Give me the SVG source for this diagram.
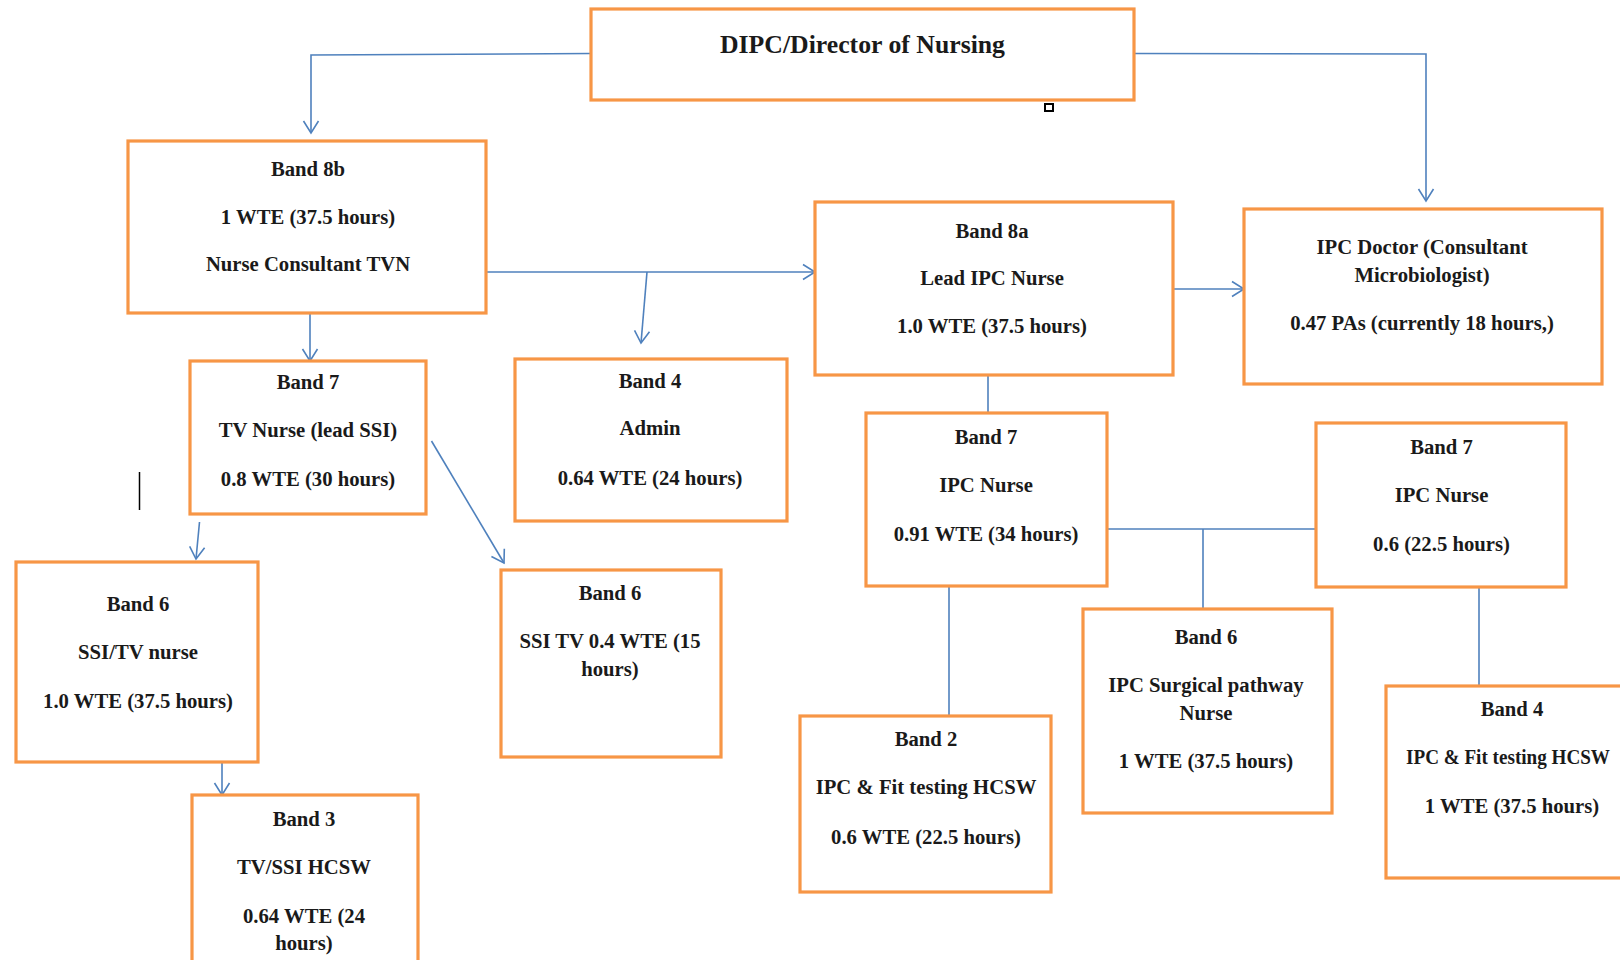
<svg xmlns="http://www.w3.org/2000/svg" width="1620" height="960" viewBox="0 0 1620 960">
<style>
.box{fill:#fff;stroke:#F79646;stroke-width:3.2}
.t{font-family:"Liberation Serif","Times New Roman",serif;font-weight:bold;font-size:20.7px;fill:#1a1a1a;text-anchor:middle}
.title{font-size:25px}
.c{fill:none;stroke:#4F81BD;stroke-width:1.6}
.a{marker-end:url(#arr)}
</style>
<defs>
<marker id="arr" markerUnits="userSpaceOnUse" markerWidth="30" markerHeight="30" refX="0" refY="0" viewBox="-15 -15 30 30" orient="auto" overflow="visible">
<path d="M -12 -7.5 L 0 0 L -12 7.5" fill="none" stroke="#4F81BD" stroke-width="1.6"/>
</marker>
</defs>
<rect width="1620" height="960" fill="#fff"/>
<g id="connectors">
<polyline class="c a" points="591,53.5 311,55 311,133"/>
<polyline class="c a" points="1134,53.5 1426,54 1426,201"/>
<line class="c a" x1="310" y1="313" x2="310" y2="361"/>
<line class="c a" x1="486" y1="272" x2="815" y2="272"/>
<line class="c a" x1="647" y1="272" x2="641" y2="343"/>
<line class="c a" x1="1173" y1="289" x2="1244" y2="289"/>
<line class="c" x1="988" y1="375" x2="988" y2="413"/>
<line class="c" x1="1107" y1="529" x2="1316" y2="529"/>
<line class="c" x1="1203" y1="529" x2="1203" y2="609"/>
<line class="c" x1="949" y1="586" x2="949" y2="716"/>
<line class="c" x1="1479" y1="587" x2="1479" y2="686"/>
<line class="c a" x1="199.5" y1="522" x2="196" y2="559"/>
<line class="c a" x1="431.5" y1="441" x2="504" y2="563"/>
<line class="c a" x1="222" y1="762" x2="222" y2="795"/>
</g>
<g id="dipc">
<rect class="box" x="591" y="9" width="543" height="91"/>
<text class="t title" x="862.5" y="53" textLength="285" lengthAdjust="spacingAndGlyphs">DIPC/Director of Nursing</text>
</g>
<g id="band8b">
<rect class="box" x="128" y="141" width="358" height="172"/>
<text class="t" x="308" y="176">Band 8b</text>
<text class="t" x="308" y="224">1 WTE (37.5 hours)</text>
<text class="t" x="308" y="271">Nurse Consultant TVN</text>
</g>
<g id="band8a">
<rect class="box" x="815" y="202" width="358" height="173"/>
<text class="t" x="992" y="238">Band 8a</text>
<text class="t" x="992" y="285">Lead IPC Nurse</text>
<text class="t" x="992" y="333">1.0 WTE (37.5 hours)</text>
</g>
<g id="ipcdoctor">
<rect class="box" x="1244" y="209" width="358" height="175"/>
<text class="t" x="1422" y="254">IPC Doctor (Consultant</text>
<text class="t" x="1422" y="282">Microbiologist)</text>
<text class="t" x="1422" y="330">0.47 PAs (currently 18 hours,)</text>
</g>
<g id="band7tv">
<rect class="box" x="190" y="361" width="236" height="153"/>
<text class="t" x="308" y="389">Band 7</text>
<text class="t" x="308" y="437">TV Nurse (lead SSI)</text>
<text class="t" x="308" y="486">0.8 WTE (30 hours)</text>
</g>
<g id="band4admin">
<rect class="box" x="515" y="359" width="272" height="162"/>
<text class="t" x="650" y="388">Band 4</text>
<text class="t" x="650" y="435">Admin</text>
<text class="t" x="650" y="485">0.64 WTE (24 hours)</text>
</g>
<g id="band6ssitvnurse">
<rect class="box" x="16" y="562" width="242" height="200"/>
<text class="t" x="138" y="611">Band 6</text>
<text class="t" x="138" y="659">SSI/TV nurse</text>
<text class="t" x="138" y="708">1.0 WTE (37.5 hours)</text>
</g>
<g id="band3">
<rect class="box" x="192" y="795" width="226" height="200"/>
<text class="t" x="304" y="826">Band 3</text>
<text class="t" x="304" y="874">TV/SSI HCSW</text>
<text class="t" x="304" y="923">0.64 WTE (24</text>
<text class="t" x="304" y="950">hours)</text>
</g>
<g id="band6ssitv">
<rect class="box" x="501" y="570" width="220" height="187"/>
<text class="t" x="610" y="600">Band 6</text>
<text class="t" x="610" y="648">SSI TV 0.4 WTE (15</text>
<text class="t" x="610" y="676">hours)</text>
</g>
<g id="band7ipc">
<rect class="box" x="866" y="413" width="241" height="173"/>
<text class="t" x="986" y="444">Band 7</text>
<text class="t" x="986" y="492">IPC Nurse</text>
<text class="t" x="986" y="541">0.91 WTE (34 hours)</text>
</g>
<g id="band7ipc2">
<rect class="box" x="1316" y="423" width="250" height="164"/>
<text class="t" x="1441.5" y="454">Band 7</text>
<text class="t" x="1441.5" y="502">IPC Nurse</text>
<text class="t" x="1441.5" y="551">0.6 (22.5 hours)</text>
</g>
<g id="band6surgical">
<rect class="box" x="1083" y="609" width="249" height="204"/>
<text class="t" x="1206" y="644">Band 6</text>
<text class="t" x="1206" y="692">IPC Surgical pathway</text>
<text class="t" x="1206" y="720">Nurse</text>
<text class="t" x="1206" y="768">1 WTE (37.5 hours)</text>
</g>
<g id="band2">
<rect class="box" x="800" y="716" width="251" height="176"/>
<text class="t" x="926" y="746">Band 2</text>
<text class="t" x="926" y="794">IPC &amp; Fit testing HCSW</text>
<text class="t" x="926" y="844">0.6 WTE (22.5 hours)</text>
</g>
<g id="band4hcsw">
<rect class="box" x="1386" y="686" width="260" height="192"/>
<text class="t" x="1512" y="716">Band 4</text>
<text class="t" x="1508" y="764" textLength="204" lengthAdjust="spacingAndGlyphs">IPC &amp; Fit testing HCSW</text>
<text class="t" x="1512" y="813">1 WTE (37.5 hours)</text>
</g>
<rect x="1045" y="104" width="8" height="7" fill="#fff" stroke="#000" stroke-width="2"/>
<line x1="139.5" y1="472" x2="139.5" y2="510" stroke="#000" stroke-width="1.5"/>
</svg>
